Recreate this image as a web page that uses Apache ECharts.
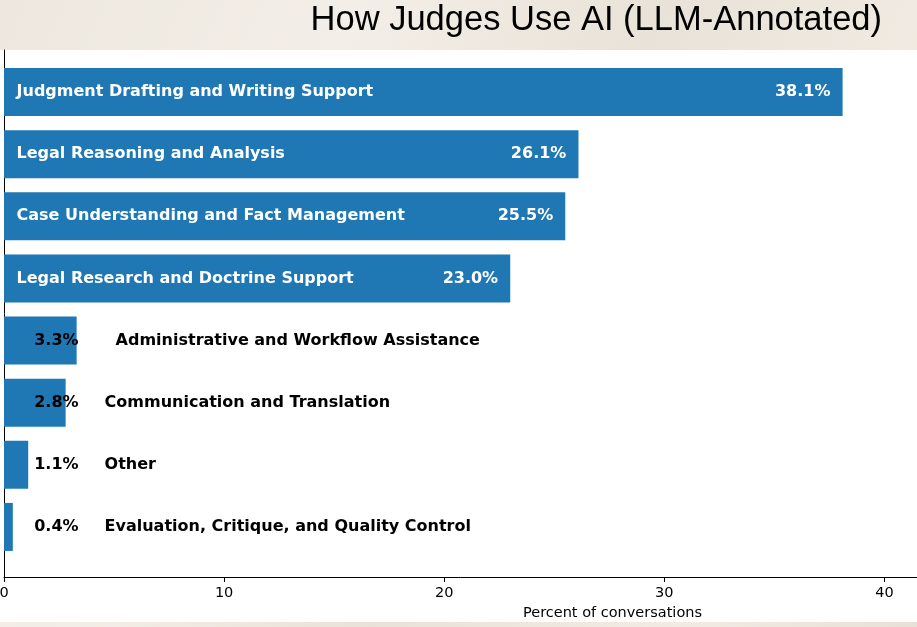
<!DOCTYPE html>
<html>
<head>
<meta charset="utf-8">
<script src="https://cdn.jsdelivr.net/npm/echarts@6/dist/echarts.min.js"></script>
<style>
  html, body { margin: 0; padding: 0; }
  body {
    width: 917px; height: 627px; overflow: hidden; position: relative;
    background: linear-gradient(115deg, #ede7df 0%, #f3eee7 30%, #e9e2d8 55%, #f1ebe3 80%, #e8e1d7 100%);
  }
  #panel { position: absolute; left: 0; top: 50px; width: 917px; height: 572px; background: #fff; }
  #chart { position: absolute; left: 0; top: 0; width: 917px; height: 627px; }
</style>
</head>
<body>
<div id="panel"></div>
<div id="chart"></div>
<script>
// Données
const categories = [
    'Judgment Drafting and Writing Support',
    'Legal Reasoning and Analysis',
    'Case Understanding and Fact Management',
    'Legal Research and Doctrine Support',
    'Administrative and Workflow Assistance',
    'Communication and Translation',
    'Other',
    'Evaluation, Critique, and Quality Control'
];
const shares = [38.1, 26.1, 25.5, 23.0, 3.3, 2.8, 1.1, 0.4];
const xTicks = [0, 10, 20, 30, 40];

const X_MAX = 41.48;
const SMALL = 10; // en dessous, les étiquettes sont posées hors de la barre

// Position des étiquettes (règle du script d'origine)
const valueLabels = shares.map((v, i) => {
    const inside = v >= SMALL;
    return {
        value: [inside ? v - 0.55 : 3.39, i],
        color: inside ? '#ffffff' : '#000000',
        text: v.toFixed(1) + '%'
    };
});
const nameLabels = shares.map((v, i) => {
    const inside = v >= SMALL;
    return {
        value: [inside ? 0.57 : Math.max(v + 1.77, 4.57), i],
        color: inside ? '#ffffff' : '#000000',
        text: categories[i]
    };
});

const labelFont = {
    fontFamily: 'DejaVu Sans',
    fontWeight: 'bold',
    fontSize: 16,
    textBorderWidth: 0,
    textShadowBlur: 0
};

function labelSeries(items, position) {
    return {
        type: 'scatter',
        xAxisIndex: 1,
        yAxisIndex: 1,
        symbolSize: 0,
        silent: true,
        itemStyle: { opacity: 1 }, // sinon le texte hérite de l'opacité 0.8
        data: items.map(d => ({
            value: d.value,
            name: d.text,
            label: Object.assign({ color: d.color }, labelFont)
        })),
        label: Object.assign({
            show: true,
            position: position,
            distance: 0,
            formatter: p => p.name
        }, labelFont)
    };
}

const chart = echarts.init(document.getElementById('chart'), null, { renderer: 'canvas' });

chart.setOption({
    backgroundColor: 'transparent',
    animation: false,
    title: {
        text: 'How Judges Use AI (LLM-Annotated)',
        right: 35,
        top: 3,
        padding: 0,
        textStyle: {
            fontFamily: 'Liberation Sans',
            fontWeight: 'normal',
            fontSize: 34.5,
            color: '#000'
        }
    },
    grid: [
        // cadre : axes
        { left: 4, right: 0, top: 50, height: 527, outerBoundsMode: 'none' },
        // barres
        { left: 4, right: 0, top: 61, height: 497, outerBoundsMode: 'none' }
    ],
    xAxis: [
        {
            type: 'value',
            gridIndex: 0,
            min: 0,
            max: X_MAX,
            interval: 10,
            axisLine: { show: true, lineStyle: { color: '#000', width: 1 } },
            axisTick: { show: true, length: 5, lineStyle: { color: '#000' },
                customValues: xTicks },
            axisLabel: {
                color: '#000', fontFamily: 'DejaVu Sans', fontSize: 14.5, margin: 9,
                customValues: xTicks
            },
            splitLine: { show: false },
            name: 'Percent of conversations',
            nameLocation: 'middle',
            nameGap: 29,
            nameTextStyle: {
                color: '#000', fontFamily: 'DejaVu Sans', fontSize: 14.5,
                padding: [0, 0, 0, 304]
            }
        },
        {
            type: 'value',
            gridIndex: 1,
            min: 0,
            max: X_MAX,
            show: false
        }
    ],
    yAxis: [
        {
            type: 'value',
            gridIndex: 0,
            min: 0,
            max: 1,
            axisLine: { show: true, lineStyle: { color: '#000', width: 1 } },
            axisTick: { show: false },
            axisLabel: { show: false },
            splitLine: { show: false }
        },
        {
            type: 'category',
            gridIndex: 1,
            data: categories,
            inverse: true,
            show: false
        }
    ],
    series: [
        {
            type: 'bar',
            xAxisIndex: 1,
            yAxisIndex: 1,
            data: shares,
            barWidth: 48,
            itemStyle: { color: '#1f77b4' },
            silent: true
        },
        labelSeries(valueLabels, 'left'),
        labelSeries(nameLabels, 'right')
    ]
});

window.addEventListener('resize', () => chart.resize());
</script>
</body>
</html>
